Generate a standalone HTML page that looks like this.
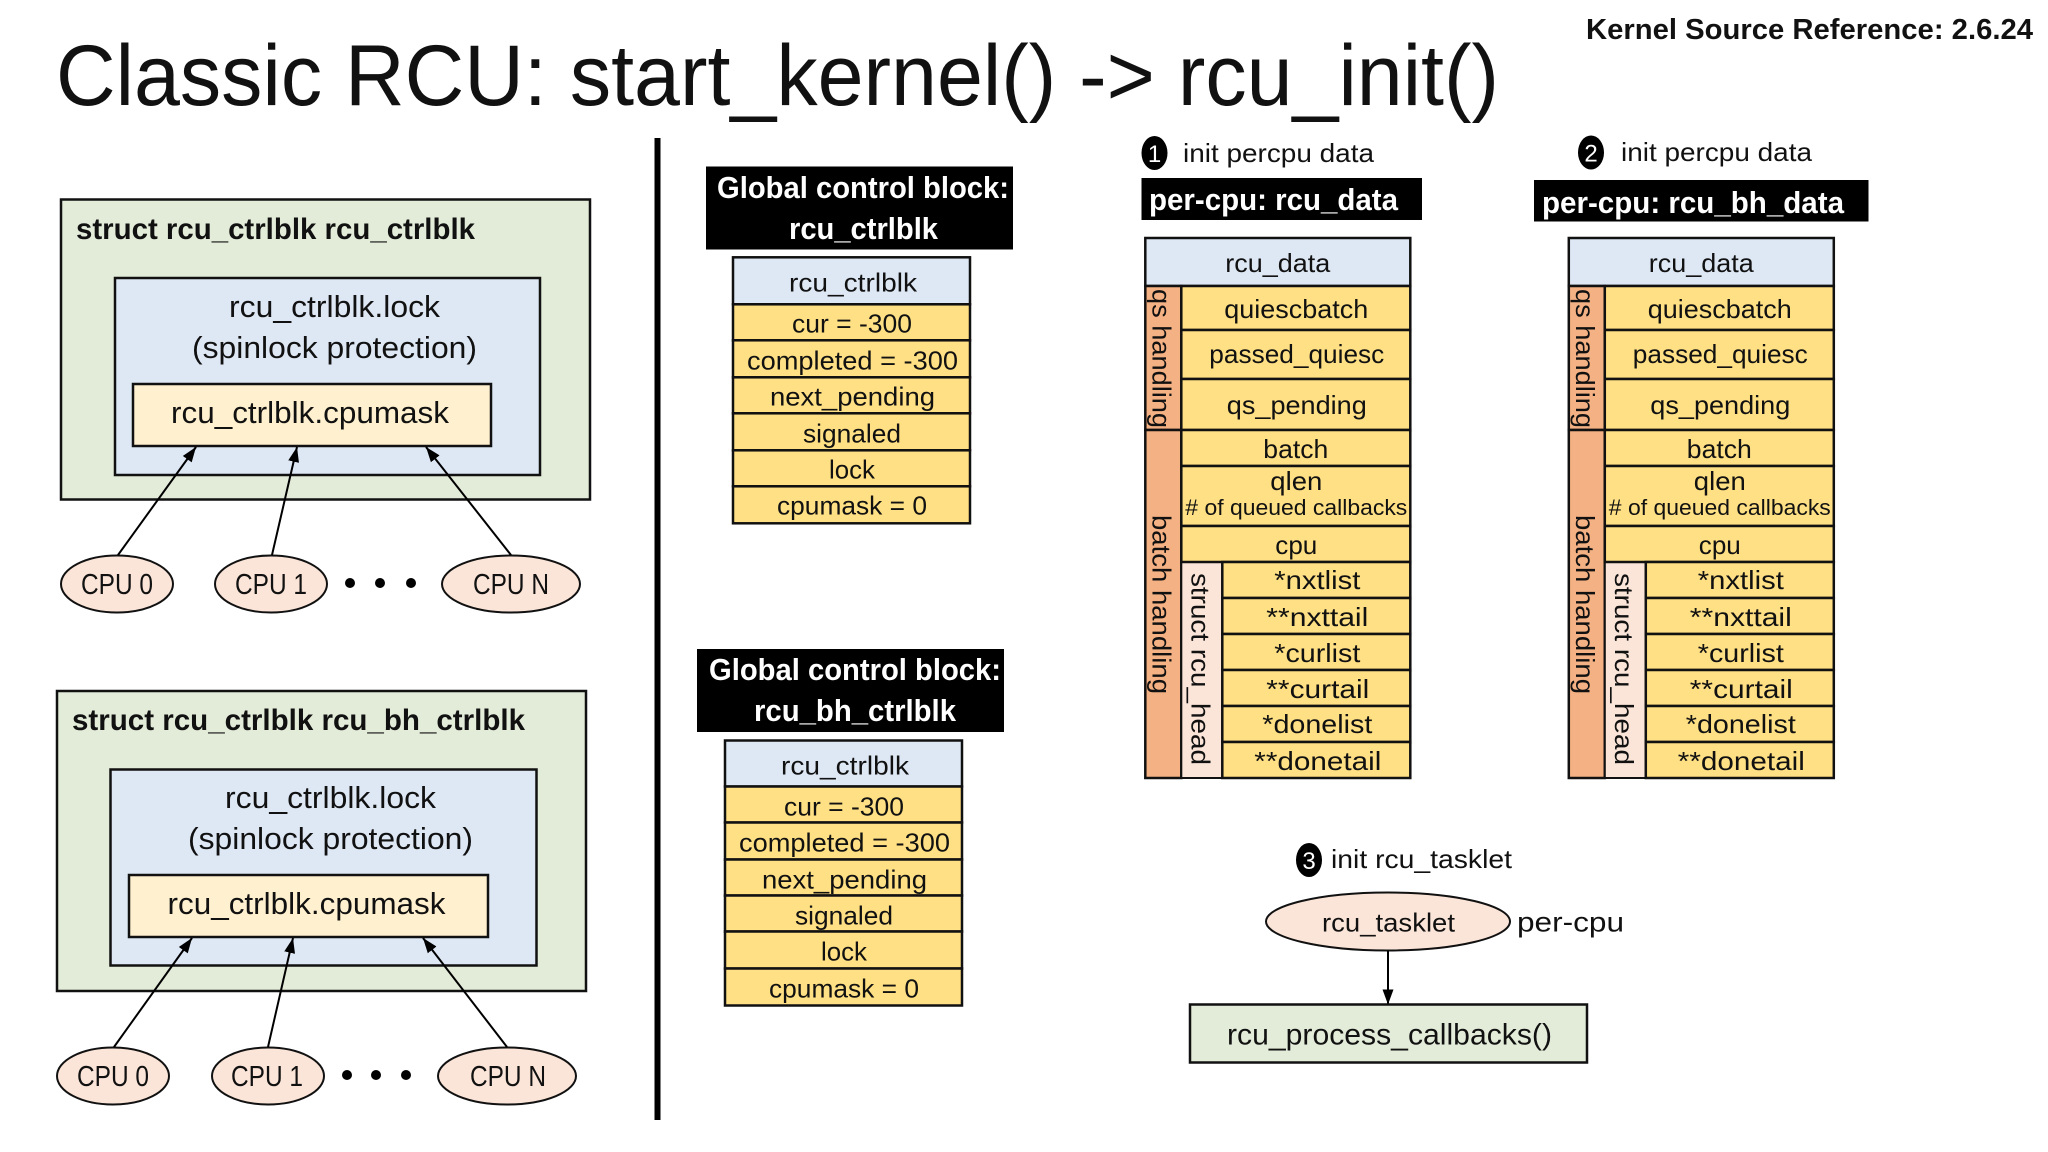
<!DOCTYPE html>
<html><head><meta charset="utf-8"><title>Classic RCU</title>
<style>
html,body{margin:0;padding:0;background:#fff}
svg{display:block}
text{font-family:"Liberation Sans",sans-serif;fill:#111;font-size:26px}
.b{font-weight:bold}
.w{fill:#fff;font-weight:bold;font-size:31px}
.g{fill:#e3ecd9;stroke:#111;stroke-width:2.5}
.bl{fill:#dee8f5;stroke:#111;stroke-width:2.5}
.ly{fill:#fff1cf;stroke:#111;stroke-width:2.5}
.y{fill:#ffe084;stroke:#111;stroke-width:2.5}
.o{fill:#f4b183;stroke:#111;stroke-width:2.5}
.p{fill:#fbe5d8;stroke:#111;stroke-width:2}
.a{stroke:#000;stroke-width:2;fill:none;marker-end:url(#ah)}
.v{font-size:26px}
</style></head><body>
<svg xmlns="http://www.w3.org/2000/svg" width="2048" height="1152" viewBox="0 0 2048 1152">
<defs><marker id="ah" markerUnits="userSpaceOnUse" markerWidth="16" markerHeight="12" refX="15" refY="6" orient="auto"><path d="M0,0.5 L15,6 L0,11.5z" fill="#000"/></marker></defs>
<rect width="2048" height="1152" fill="#fff"/>

<text x="56" y="105" style="font-size:86px" textLength="1443" lengthAdjust="spacingAndGlyphs">Classic RCU: start_kernel() -&gt; rcu_init()</text>
<text class="b" x="1586" y="39" style="font-size:29px" textLength="447" lengthAdjust="spacingAndGlyphs">Kernel Source Reference: 2.6.24</text>
<rect x="654.5" y="138" width="6" height="982" fill="#000"/>

<!-- Left box 1 -->
<rect class="g" x="61" y="199.500" width="529" height="300"/>
<rect class="bl" x="115" y="278" width="425" height="197"/>
<rect class="ly" x="133" y="384" width="358" height="62"/>
<text class="b" x="76" y="239" style="font-size:30px" textLength="399" lengthAdjust="spacingAndGlyphs">struct rcu_ctrlblk rcu_ctrlblk</text>
<text x="229" y="317" style="font-size:31px" textLength="211" lengthAdjust="spacingAndGlyphs">rcu_ctrlblk.lock</text>
<text x="192" y="358" style="font-size:31px" textLength="285" lengthAdjust="spacingAndGlyphs">(spinlock protection)</text>
<text x="171" y="423" style="font-size:31px" textLength="278" lengthAdjust="spacingAndGlyphs">rcu_ctrlblk.cpumask</text>
<ellipse class="p" cx="117" cy="584" rx="56" ry="28.500"/>
<ellipse class="p" cx="271" cy="584" rx="56" ry="28.500"/>
<ellipse class="p" cx="511" cy="584" rx="69" ry="28.500"/>
<text x="81" y="594" textLength="72" lengthAdjust="spacingAndGlyphs" style="font-size:29px">CPU 0</text>
<text x="235" y="594" textLength="72" lengthAdjust="spacingAndGlyphs" style="font-size:29px">CPU 1</text>
<text x="473" y="594" textLength="76" lengthAdjust="spacingAndGlyphs" style="font-size:29px">CPU N</text>
<circle cx="350" cy="583" r="5" fill="#000"/><circle cx="380" cy="583" r="5" fill="#000"/><circle cx="411" cy="583" r="5" fill="#000"/>
<line class="a" x1="118" y1="555" x2="196" y2="447"/>
<line class="a" x1="272" y1="555" x2="297" y2="447"/>
<line class="a" x1="511" y1="555" x2="426" y2="447"/>

<!-- Left box 2 -->
<rect class="g" x="57" y="691" width="529" height="300"/>
<rect class="bl" x="110.500" y="769.500" width="426" height="196"/>
<rect class="ly" x="129" y="875" width="359" height="62"/>
<text class="b" x="72" y="730" style="font-size:30px" textLength="453" lengthAdjust="spacingAndGlyphs">struct rcu_ctrlblk rcu_bh_ctrlblk</text>
<text x="225" y="808" style="font-size:31px" textLength="211" lengthAdjust="spacingAndGlyphs">rcu_ctrlblk.lock</text>
<text x="188" y="849" style="font-size:31px" textLength="285" lengthAdjust="spacingAndGlyphs">(spinlock protection)</text>
<text x="167.500" y="914" style="font-size:31px" textLength="278" lengthAdjust="spacingAndGlyphs">rcu_ctrlblk.cpumask</text>
<ellipse class="p" cx="113" cy="1076" rx="56" ry="28.500"/>
<ellipse class="p" cx="268" cy="1076" rx="56" ry="28.500"/>
<ellipse class="p" cx="507" cy="1076" rx="69" ry="28.500"/>
<text x="77" y="1086" textLength="72" lengthAdjust="spacingAndGlyphs" style="font-size:29px">CPU 0</text>
<text x="231" y="1086" textLength="72" lengthAdjust="spacingAndGlyphs" style="font-size:29px">CPU 1</text>
<text x="470" y="1086" textLength="76" lengthAdjust="spacingAndGlyphs" style="font-size:29px">CPU N</text>
<circle cx="347" cy="1075" r="5" fill="#000"/><circle cx="376" cy="1075" r="5" fill="#000"/><circle cx="406" cy="1075" r="5" fill="#000"/>
<line class="a" x1="114" y1="1047" x2="192" y2="938"/>
<line class="a" x1="268" y1="1047" x2="293" y2="938"/>
<line class="a" x1="507" y1="1047" x2="423" y2="938"/>

<!-- Global control 1 -->
<rect x="706" y="166.500" width="307" height="83" fill="#000"/>
<text class="w" x="717" y="198" textLength="292" lengthAdjust="spacingAndGlyphs">Global control block:</text>
<text class="w" x="789" y="239" textLength="149" lengthAdjust="spacingAndGlyphs">rcu_ctrlblk</text>
<g transform="translate(-1,-0.700)">
<rect class="bl" x="734" y="258" width="237" height="47"/>
<rect class="y" x="734" y="305" width="237" height="36"/>
<rect class="y" x="734" y="341" width="237" height="37"/>
<rect class="y" x="734" y="378" width="237" height="36"/>
<rect class="y" x="734" y="414" width="237" height="37"/>
<rect class="y" x="734" y="451" width="237" height="36"/>
<rect class="y" x="734" y="487" width="237" height="37"/>
<text x="790" y="292" textLength="128" lengthAdjust="spacingAndGlyphs">rcu_ctrlblk</text>
<text x="793" y="333" textLength="120" lengthAdjust="spacingAndGlyphs">cur = -300</text>
<text x="748" y="370" textLength="211" lengthAdjust="spacingAndGlyphs">completed = -300</text>
<text x="771" y="406" textLength="165" lengthAdjust="spacingAndGlyphs">next_pending</text>
<text x="804" y="443" textLength="98" lengthAdjust="spacingAndGlyphs">signaled</text>
<text x="830" y="479" textLength="46" lengthAdjust="spacingAndGlyphs">lock</text>
<text x="778" y="515" textLength="150" lengthAdjust="spacingAndGlyphs">cpumask = 0</text>
</g>

<!-- Global control 2 -->
<rect x="697" y="649" width="307" height="83" fill="#000"/>
<text class="w" x="709" y="680" textLength="292" lengthAdjust="spacingAndGlyphs">Global control block:</text>
<text class="w" x="754" y="721" textLength="202" lengthAdjust="spacingAndGlyphs">rcu_bh_ctrlblk</text>
<g transform="translate(-1,-2.500)">
<rect class="bl" x="726" y="743" width="237" height="46"/>
<rect class="y" x="726" y="789" width="237" height="36"/>
<rect class="y" x="726" y="825" width="237" height="37"/>
<rect class="y" x="726" y="862" width="237" height="36"/>
<rect class="y" x="726" y="898" width="237" height="36"/>
<rect class="y" x="726" y="934" width="237" height="37"/>
<rect class="y" x="726" y="971" width="237" height="37"/>
<text x="782" y="777" textLength="128" lengthAdjust="spacingAndGlyphs">rcu_ctrlblk</text>
<text x="785" y="818" textLength="120" lengthAdjust="spacingAndGlyphs">cur = -300</text>
<text x="740" y="854" textLength="211" lengthAdjust="spacingAndGlyphs">completed = -300</text>
<text x="763" y="891" textLength="165" lengthAdjust="spacingAndGlyphs">next_pending</text>
<text x="796" y="927" textLength="98" lengthAdjust="spacingAndGlyphs">signaled</text>
<text x="822" y="963" textLength="46" lengthAdjust="spacingAndGlyphs">lock</text>
<text x="770" y="1000" textLength="150" lengthAdjust="spacingAndGlyphs">cpumask = 0</text>
</g>

<!-- Headers per-cpu -->
<ellipse cx="1154.500" cy="153" rx="13" ry="17" fill="#000"/>
<text x="1154.500" y="162" text-anchor="middle" style="font-size:24px;fill:#fff">1</text>
<text x="1183" y="162" textLength="191" lengthAdjust="spacingAndGlyphs">init percpu data</text>
<rect x="1141.500" y="178" width="280.500" height="42" fill="#000"/>
<text class="w" x="1149" y="210" textLength="249" lengthAdjust="spacingAndGlyphs">per-cpu: rcu_data</text>

<ellipse cx="1591" cy="152.500" rx="13" ry="17" fill="#000"/>
<text x="1591" y="161.500" text-anchor="middle" style="font-size:24px;fill:#fff">2</text>
<text x="1621" y="161" textLength="191" lengthAdjust="spacingAndGlyphs">init percpu data</text>
<rect x="1534" y="180" width="334.500" height="41.500" fill="#000"/>
<text class="w" x="1542" y="213" textLength="302" lengthAdjust="spacingAndGlyphs">per-cpu: rcu_bh_data</text>

<!-- Table rcu_data -->
<g transform="translate(-0.700,0)">
<rect class="bl" x="1146" y="238" width="265" height="48"/>
<rect class="o" x="1146" y="286" width="36" height="144"/>
<rect class="o" x="1146" y="430" width="36" height="348"/>
<rect x="1182" y="562" width="41" height="216" fill="#fbe5d8" stroke="#111" stroke-width="2"/>
<rect class="y" x="1182" y="286" width="229" height="44"/>
<rect class="y" x="1182" y="330" width="229" height="49"/>
<rect class="y" x="1182" y="379" width="229" height="51"/>
<rect class="y" x="1182" y="430" width="229" height="36"/>
<rect class="y" x="1182" y="466" width="229" height="60"/>
<rect class="y" x="1182" y="526" width="229" height="36"/>
<rect class="y" x="1223" y="562" width="188" height="36"/>
<rect class="y" x="1223" y="598" width="188" height="36"/>
<rect class="y" x="1223" y="634" width="188" height="36"/>
<rect class="y" x="1223" y="670" width="188" height="36"/>
<rect class="y" x="1223" y="706" width="188" height="36"/>
<rect class="y" x="1223" y="742" width="188" height="36"/>
<text x="1226" y="272" textLength="105" lengthAdjust="spacingAndGlyphs">rcu_data</text>
<text x="1225" y="318" textLength="144" lengthAdjust="spacingAndGlyphs">quiescbatch</text>
<text x="1210" y="363" textLength="175" lengthAdjust="spacingAndGlyphs">passed_quiesc</text>
<text x="1227.500" y="414" textLength="140" lengthAdjust="spacingAndGlyphs">qs_pending</text>
<text x="1264" y="458" textLength="65" lengthAdjust="spacingAndGlyphs">batch</text>
<text x="1271" y="490" textLength="52" lengthAdjust="spacingAndGlyphs">qlen</text>
<text x="1186" y="515" style="font-size:22px" textLength="222" lengthAdjust="spacingAndGlyphs"># of queued callbacks</text>
<text x="1276" y="554" textLength="42" lengthAdjust="spacingAndGlyphs">cpu</text>
<text x="1275" y="589" textLength="86" lengthAdjust="spacingAndGlyphs">*nxtlist</text>
<text x="1267" y="626" textLength="102" lengthAdjust="spacingAndGlyphs">**nxttail</text>
<text x="1275" y="662" textLength="86" lengthAdjust="spacingAndGlyphs">*curlist</text>
<text x="1267" y="698" textLength="103" lengthAdjust="spacingAndGlyphs">**curtail</text>
<text x="1263" y="733" textLength="110" lengthAdjust="spacingAndGlyphs">*donelist</text>
<text x="1255" y="770" textLength="127" lengthAdjust="spacingAndGlyphs">**donetail</text>
<text class="v" transform="translate(1153,289) rotate(90)" textLength="139" lengthAdjust="spacingAndGlyphs">qs handling</text>
<text class="v" transform="translate(1153,515) rotate(90)" textLength="179" lengthAdjust="spacingAndGlyphs">batch handling</text>
<text class="v" transform="translate(1192,573) rotate(90)" textLength="192" lengthAdjust="spacingAndGlyphs">struct rcu_head</text>
</g>

<!-- Table rcu_bh_data -->
<g transform="translate(422.800,0)">
<rect class="bl" x="1146" y="238" width="265" height="48"/>
<rect class="o" x="1146" y="286" width="36" height="144"/>
<rect class="o" x="1146" y="430" width="36" height="348"/>
<rect x="1182" y="562" width="41" height="216" fill="#fbe5d8" stroke="#111" stroke-width="2"/>
<rect class="y" x="1182" y="286" width="229" height="44"/>
<rect class="y" x="1182" y="330" width="229" height="49"/>
<rect class="y" x="1182" y="379" width="229" height="51"/>
<rect class="y" x="1182" y="430" width="229" height="36"/>
<rect class="y" x="1182" y="466" width="229" height="60"/>
<rect class="y" x="1182" y="526" width="229" height="36"/>
<rect class="y" x="1223" y="562" width="188" height="36"/>
<rect class="y" x="1223" y="598" width="188" height="36"/>
<rect class="y" x="1223" y="634" width="188" height="36"/>
<rect class="y" x="1223" y="670" width="188" height="36"/>
<rect class="y" x="1223" y="706" width="188" height="36"/>
<rect class="y" x="1223" y="742" width="188" height="36"/>
<text x="1226" y="272" textLength="105" lengthAdjust="spacingAndGlyphs">rcu_data</text>
<text x="1225" y="318" textLength="144" lengthAdjust="spacingAndGlyphs">quiescbatch</text>
<text x="1210" y="363" textLength="175" lengthAdjust="spacingAndGlyphs">passed_quiesc</text>
<text x="1227.500" y="414" textLength="140" lengthAdjust="spacingAndGlyphs">qs_pending</text>
<text x="1264" y="458" textLength="65" lengthAdjust="spacingAndGlyphs">batch</text>
<text x="1271" y="490" textLength="52" lengthAdjust="spacingAndGlyphs">qlen</text>
<text x="1186" y="515" style="font-size:22px" textLength="222" lengthAdjust="spacingAndGlyphs"># of queued callbacks</text>
<text x="1276" y="554" textLength="42" lengthAdjust="spacingAndGlyphs">cpu</text>
<text x="1275" y="589" textLength="86" lengthAdjust="spacingAndGlyphs">*nxtlist</text>
<text x="1267" y="626" textLength="102" lengthAdjust="spacingAndGlyphs">**nxttail</text>
<text x="1275" y="662" textLength="86" lengthAdjust="spacingAndGlyphs">*curlist</text>
<text x="1267" y="698" textLength="103" lengthAdjust="spacingAndGlyphs">**curtail</text>
<text x="1263" y="733" textLength="110" lengthAdjust="spacingAndGlyphs">*donelist</text>
<text x="1255" y="770" textLength="127" lengthAdjust="spacingAndGlyphs">**donetail</text>
<text class="v" transform="translate(1153,289) rotate(90)" textLength="139" lengthAdjust="spacingAndGlyphs">qs handling</text>
<text class="v" transform="translate(1153,515) rotate(90)" textLength="179" lengthAdjust="spacingAndGlyphs">batch handling</text>
<text class="v" transform="translate(1192,573) rotate(90)" textLength="192" lengthAdjust="spacingAndGlyphs">struct rcu_head</text>
</g>

<!-- Tasklet -->
<ellipse cx="1309" cy="860" rx="13" ry="17" fill="#000"/>
<text x="1309" y="869" text-anchor="middle" style="font-size:24px;fill:#fff">3</text>
<text x="1335" y="868" textLength="181" lengthAdjust="spacingAndGlyphs" transform="translate(-4,0)">init rcu_tasklet</text>
<g transform="translate(-5,-2.500)">
<ellipse class="p" cx="1393" cy="924" rx="122" ry="29"/>
<text x="1327" y="934" textLength="133" lengthAdjust="spacingAndGlyphs">rcu_tasklet</text>
<text x="1522" y="934" style="font-size:28px" textLength="107" lengthAdjust="spacingAndGlyphs">per-cpu</text>
<line class="a" x1="1393" y1="953" x2="1393" y2="1007"/>
<rect class="g" x="1195" y="1007" width="397" height="58"/>
<text x="1232" y="1047" style="font-size:30px" textLength="325" lengthAdjust="spacingAndGlyphs">rcu_process_callbacks()</text>
</g>
</svg>
</body></html>
